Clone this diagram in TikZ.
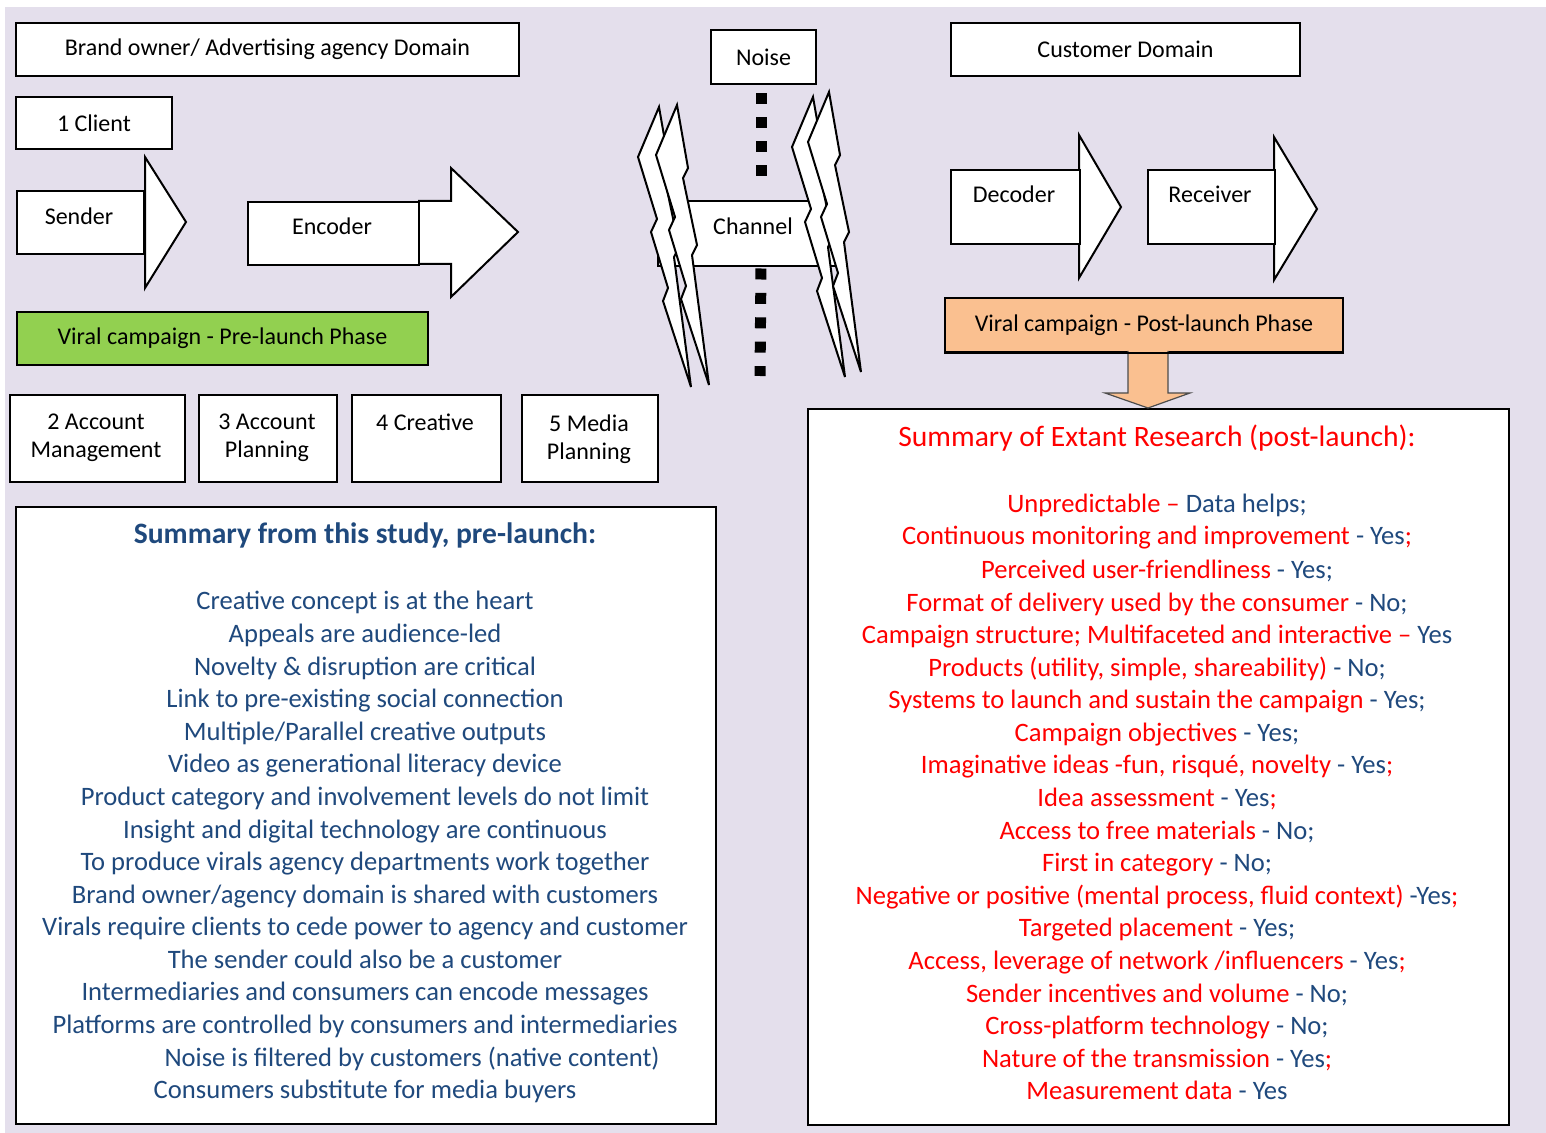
\documentclass[tikz,border=0pt]{standalone}
\usepackage{fontspec}
\setmainfont{Carlito}
\definecolor{lav}{HTML}{E4DFEC}
\definecolor{vgreen}{HTML}{92D050}
\definecolor{vorange}{HTML}{FAC090}
\definecolor{navy}{HTML}{1F497D}
\definecolor{vred}{HTML}{FF0000}
\newcommand\redtx[1]{\textcolor{vred}{#1}}
\newcommand\bluetx[1]{\textcolor{navy}{#1}}
\begin{document}
\begin{tikzpicture}[x=0.5pt,y=-0.5pt,
  frame/.style={draw=black, line width=1pt, fill=white},
  pxbox/.style 2 args={minimum width=#1*0.5pt, minimum height=#2*0.5pt, inner sep=0pt, anchor=north west},
  lbl/.style={font=\fontsize{12}{14.4}\selectfont, inner sep=0pt, anchor=base},
  twolbl/.style={font=\fontsize{12}{14}\selectfont, inner sep=0pt, align=center, anchor=north},
  headshape/.style={draw=black, line width=1pt, fill=white, line join=miter},
  boltshape/.style={draw=black, line width=1pt, fill=white, line join=miter},
  dotline/.style={line width=5.5pt, line cap=butt},
  preline/.style={font=\fontsize{13.3}{16}\selectfont, text=navy, inner sep=0pt, anchor=base},
  postline/.style={font=\fontsize{13.3}{16}\selectfont, text=vred, inner sep=0pt, anchor=base},
  lightbolt/.pic={
    \draw[boltshape] (0,0) -- (-21,50) -- (-2,112) -- (-8,125) -- (9,181) -- (4,194)
      -- (32,280) -- (15,150) -- (20,140) -- (6,73) -- (11,63) -- cycle;
  }
]
\useasboundingbox (0,0) rectangle (1546,1133);
\fill[lav] (5,7) rectangle (1546,1133);

% ---- sender side: domain, client, sender and encoder ----
\node[frame, pxbox={503}{53}, font=\fontsize{12}{14.4}\selectfont] (brand) at (15,22) {Brand owner/ Advertising agency Domain};
\node[frame, pxbox={156}{52}, font=\fontsize{12}{14.4}\selectfont] (client) at (15,96) {1 Client};

\node[frame, pxbox={127}{63}] (sender) at (16,190) {};
\draw[headshape] (sender.east |- 0,157) -- (186,222) -- (sender.east |- 0,288) -- cycle;
\draw[line width=1pt] (sender.north east) -- (sender.south east);
\node[lbl] (senderT) at (79,225) {Sender};

\draw[headshape] (418,201) -- (451,201) -- (451,168) -- (518,232) -- (451,297) -- (451,264) -- (418,264);
\node[frame, pxbox={171}{63}] (encoder) at (247,201) {};
\node[lbl] (encoderT) at (332,235) {Encoder};

\node[frame, pxbox={411}{53}, fill=vgreen, font=\fontsize{12}{14.4}\selectfont] (pre) at (16,311) {Viral campaign - Pre-launch Phase};

% ---- agency departments ----
\node[frame, pxbox={175}{87}] (dept2) at (9,394) {};
\node[twolbl] (dept2T) at (96,414) {2 Account\\Management};
\node[frame, pxbox={138}{87}] (dept3) at (198,394) {};
\node[twolbl] (dept3T) at (267,414) {3 Account\\Planning};
\node[frame, pxbox={149}{87}] (dept4) at (351,394) {};
\node[twolbl] (dept4T) at (425,414) {4 Creative};
\node[frame, pxbox={136}{87}] (dept5) at (521,394) {};
\node[twolbl] (dept5T) at (589,414) {5 Media\\Planning};

% ---- noise and channel ----
\node[frame, pxbox={105}{54}, font=\fontsize{12}{14.4}\selectfont] (noise) at (710,29) {Noise};
\node[frame, pxbox={181}{65}] (channel) at (657,200) {};
\node[lbl] (channelT) at (753,235) {Channel};
\coordinate (dotEnd) at (760,376);
\draw[dotline, dash pattern=on 5.5pt off 6.5pt, shorten <=4.25pt, shorten >=12pt]
  ([xshift=-1.25pt]noise.south) -- ([xshift=-1.25pt]channel.north -| noise.south);
\draw[dotline, dash pattern=on 5.5pt off 6.7pt, shorten <=0.75pt]
  ([xshift=-1.25pt]channel.south -| noise.south) -- (dotEnd);

\pic at (659,107) {lightbolt};
\pic at (677,105) {lightbolt};
\pic at (813,97) {lightbolt};
\pic at (829,92) {lightbolt};

% ---- receiver side ----
\node[frame, pxbox={349}{53}, font=\fontsize{12}{14.4}\selectfont] (customer) at (950,22) {Customer Domain};

\draw[headshape] (1079,135) -- (1121,207) -- (1079,278) -- cycle;
\node[frame, pxbox={129}{74}] (decoder) at (950,169) {};
\node[lbl] (decoderT) at (1014,203) {Decoder};

\draw[headshape] (1274,137) -- (1317,209) -- (1274,280) -- cycle;
\node[frame, pxbox={127}{74}] (receiver) at (1147,169) {};
\node[lbl] (receiverT) at (1210,203) {Receiver};

\node[frame, pxbox={398}{54}, fill=vorange, font=\fontsize{12}{14.4}\selectfont] (post) at (944,297) {Viral campaign - Post-launch Phase};

% ---- summary of this study ----
\node[frame, pxbox={700}{617}] (preSum) at (15,506) {};
\node[preline, font=\bfseries\fontsize{14.8}{18}\selectfont] (preTitle) at (365,544) {Summary from this study, pre-launch:};
\node[preline] (p1) at (365,609) {Creative concept is at the heart};
\node[preline] (p2) at (365,642) {Appeals are audience-led};
\node[preline] (p3) at (365,675) {Novelty \& disruption are critical};
\node[preline] (p4) at (365,707) {Link to pre-existing social connection};
\node[preline] (p5) at (365,740) {Multiple/Parallel creative outputs};
\node[preline] (p6) at (365,772) {Video as generational literacy device};
\node[preline] (p7) at (365,805) {Product category and involvement levels do not limit};
\node[preline] (p8) at (365,838) {Insight and digital technology are continuous};
\node[preline] (p9) at (365,870) {To produce virals agency departments work together};
\node[preline] (p10) at (365,903) {Brand owner/agency domain is shared with customers};
\node[preline] (p11) at (365,935) {Virals require clients to cede power to agency and customer};
\node[preline] (p12) at (365,968) {The sender could also be a customer};
\node[preline] (p13) at (365,1000) {Intermediaries and consumers can encode messages};
\node[preline] (p14) at (365,1033) {Platforms are controlled by consumers and intermediaries};
\node[preline] (p15) at (412,1066) {Noise is filtered by customers (native content)};
\node[preline] (p16) at (365,1098) {Consumers substitute for media buyers};

% ---- summary of extant research ----
\node[frame, pxbox={701}{716}] (postSum) at (807,408) {};
\draw[draw=black!70, line width=0.6pt, fill=vorange]
  (1128,351) -- (1128,393) -- (1105,393) -- (1148,408) -- (1190,393) -- (1168,393) -- (1168,351);
\draw[line width=1pt] (post.south west) -- (post.south east);
\node[postline, font=\fontsize{14.8}{18}\selectfont] (postTitle) at (1157,447) {Summary of Extant Research (post-launch):};
\node[postline] (r1) at (1157,513) {Unpredictable – \bluetx{Data helps;}};
\node[postline] (r2) at (1157,545) {Continuous monitoring and improvement \bluetx{- Yes};};
\node[postline] (r3) at (1157,578) {Perceived user-friendliness \bluetx{- Yes;}};
\node[postline] (r4) at (1157,611) {Format of delivery used by the consumer \bluetx{- No;}};
\node[postline] (r5) at (1157,643) {Campaign structure; Multifaceted and interactive – \bluetx{Yes}};
\node[postline] (r6) at (1157,676) {Products (utility, simple, shareability) \bluetx{- No;}};
\node[postline] (r7) at (1157,708) {Systems to launch and sustain the campaign \bluetx{- Yes;}};
\node[postline] (r8) at (1157,741) {Campaign objectives \bluetx{- Yes;}};
\node[postline] (r9) at (1157,773) {Imaginative ideas -fun, risqué, novelty \bluetx{- Yes};};
\node[postline] (r10) at (1157,806) {Idea assessment \bluetx{- Yes};};
\node[postline] (r11) at (1157,839) {Access to free materials \bluetx{- No;}};
\node[postline] (r12) at (1157,871) {First in category \bluetx{- No;}};
\node[postline] (r13) at (1157,904) {Negative or positive (mental process, fluid context) \bluetx{-Yes};};
\node[postline] (r14) at (1157,936) {Targeted placement \bluetx{- Yes;}};
\node[postline] (r15) at (1157,969) {Access, leverage of network /influencers \bluetx{- Yes};};
\node[postline] (r16) at (1157,1002) {Sender incentives and volume \bluetx{- No;}};
\node[postline] (r17) at (1157,1034) {Cross-platform technology \bluetx{- No;}};
\node[postline] (r18) at (1157,1067) {Nature of the transmission \bluetx{- Yes};};
\node[postline] (r19) at (1157,1099) {Measurement data \bluetx{- Yes}};
\end{tikzpicture}
\end{document}
